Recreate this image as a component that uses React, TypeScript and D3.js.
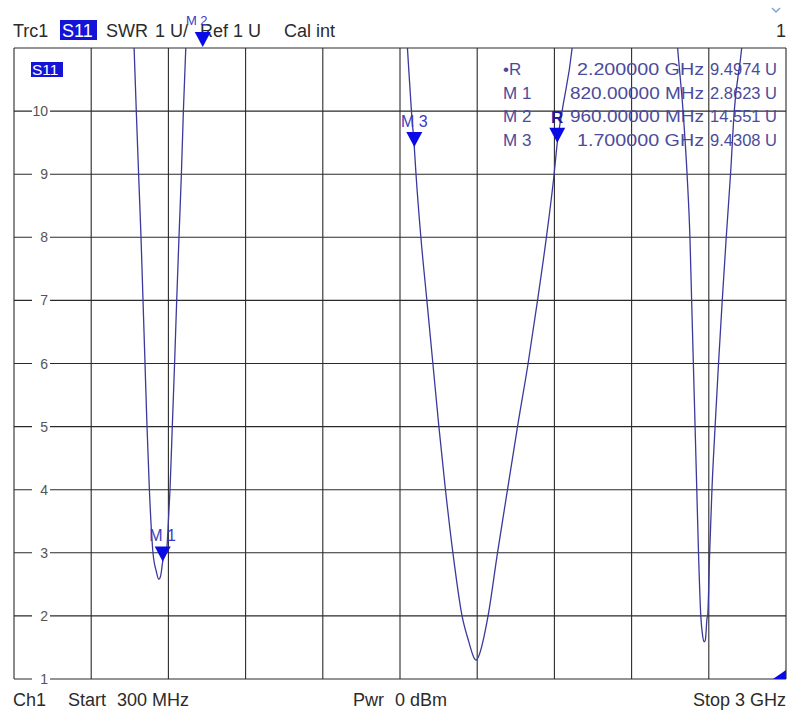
import React from 'react';
import * as d3 from 'd3';

// trace S11, SWR (U) vs frequency (MHz); values above 11 run off the top of the screen
const freqMHz = [
  300, 450, 600, 680, 720, 727.7, 735.8, 744.2, 751.2, 758.2, 765.2, 773.5, 786.1, 798, 806.4, 812, 816, 820,
  827, 834, 840, 845.6, 853.6, 861.6, 869, 877, 885.4, 892.4, 900.8, 930, 960, 1100, 1300, 1500, 1640,
  1676, 1690, 1700, 1706, 1723, 1744, 1765, 1786, 1809, 1835, 1867, 1890, 1911, 1917, 1925, 1958, 1991,
  2026, 2061, 2098, 2131, 2162, 2189, 2200, 2217, 2252, 2300, 2450, 2580,
  2621, 2640, 2654, 2664, 2670, 2676, 2682, 2688, 2694, 2702, 2708, 2714, 2718, 2724, 2726, 2733, 2741,
  2752, 2764, 2777, 2791, 2806, 2819, 2845, 2900, 3000,
];
const swrU = [
  40, 30, 20, 14, 11, 10, 9, 8, 7, 6, 5, 4, 3, 2.7, 2.58, 2.62, 2.72, 2.86,
  2.95, 3.05, 3.5, 4, 5, 6, 7, 8, 9, 10, 11, 13, 14.551, 22, 28, 22, 13.5,
  11, 10, 9.43, 9, 8, 7, 6, 5, 4, 3, 2, 1.6, 1.32, 1.3, 1.36, 2, 3,
  4, 5, 6, 7, 8, 9, 9.497, 10, 11, 14, 22, 14,
  11, 10, 9, 8, 7, 6, 5, 4, 3, 2, 1.7, 1.59, 1.62, 1.97, 2, 3, 4,
  5, 6, 7, 8, 9, 10, 11, 15, 25,
];

const yTicks = [1, 2, 3, 4, 5, 6, 7, 8, 9, 10];
const xGridMHz = [300, 570, 840, 1110, 1380, 1650, 1920, 2190, 2460, 2730, 3000];

// markers
const markerNames = ['R', 'M 1', 'M 2', 'M 3'];
const markerLegend = ['\u2022R', 'M 1', 'M 2', 'M 3'];
const markerFreqMHz = [2200, 820, 960, 1700];
const markerSwr = [9.4974, 2.8623, 14.551, 9.4308];
const markerFreqText = ['2.200000 GHz', '820.00000 MHz', '960.00000 MHz', '1.700000 GHz'];
const markerValueText = ['9.4974 U', '2.8623 U', '14.551 U', '9.4308 U'];

const W = 790;
const H = 716;
const FONT = '"Liberation Sans", Arial, sans-serif';

export default function App() {
  const x = d3.scaleLinear().domain([300, 3000]).range([14, 786]);
  const y = d3.scaleLinear().domain([1, 11]).range([679, 48]);

  const pts: [number, number][] = freqMHz.map((f, i) => [f, swrU[i]]);
  const line = d3
    .line<[number, number]>()
    .x((d) => x(d[0]))
    .y((d) => y(d[1]))
    .curve(d3.curveMonotoneX);

  const top = y(11);
  const bottom = y(1);
  const left = x(300);
  const right = x(3000);

  return (
    <svg width={W} height={H} style={{ position: 'absolute', left: 0, top: 0, background: '#fff' }} fontFamily={FONT}>
      <defs>
        <clipPath id="plot">
          <rect x={left} y={top} width={right - left} height={bottom - top} />
        </clipPath>
      </defs>

      {/* header */}
      <g fontSize={18} fill="#2b2b2b">
        <text x={13} y={37}>Trc1</text>
        <rect x={60} y={20} width={37} height={20} fill="#1414d8" />
        <text x={62} y={37} fill="#fff">S11</text>
        <text x={106} y={37}>SWR</text>
        <text x={155} y={37}>1 U/</text>
        <text x={200} y={37}>Ref 1 U</text>
        <text x={284} y={37}>Cal int</text>
        <text x={786} y={37} textAnchor="end">1</text>
      </g>
      <polyline points="772,8 776,12 780,8" fill="none" stroke="#7aa7d6" strokeWidth={1.5} />

      {/* grid */}
      <g stroke="#2a2a2a" strokeWidth={1.1}>
        {xGridMHz.map((f) => (
          <line key={'v' + f} x1={x(f)} x2={x(f)} y1={top} y2={bottom} />
        ))}
        {[...yTicks, 11].map((t) => (
          <line key={'h' + t} x1={left} x2={right} y1={y(t)} y2={y(t)} />
        ))}
      </g>

      {/* y tick labels */}
      <g fontSize={14} fill="#555">
        {yTicks.map((t) => (
          <g key={'t' + t}>
            <rect x={32} y={y(t) - 6} width={18} height={12} fill="#fff" />
            <text x={48} y={y(t) + 5} textAnchor="end">{t}</text>
          </g>
        ))}
      </g>

      <rect x={31} y={62} width={32} height={15} fill="#1414d8" />
      <text x={32} y={75} fontSize={15.5} fill="#fff">S11</text>

      {/* marker legend */}
      <g fontSize={17} fill="#4b4b9b">
        {markerLegend.map((m, i) => (
          <g key={'l' + m}>
            <text x={503} y={75 + i * 23.5}>{m}</text>
            <text
              x={704}
              y={75 + i * 23.5}
              textAnchor="end"
              textLength={markerFreqText[i].length === 13 ? 134 : 127}
              lengthAdjust="spacingAndGlyphs"
            >
              {markerFreqText[i]}
            </text>
            <text x={777} y={75 + i * 23.5} textAnchor="end" fontSize={16.5}>
              {markerValueText[i]}
            </text>
          </g>
        ))}
      </g>

      {/* trace */}
      <path d={line(pts) || ''} fill="none" stroke="#3a3a9c" strokeWidth={1.3} clipPath="url(#plot)" />

      {/* markers */}
      {markerNames.map((m, i) => {
        const mx = x(markerFreqMHz[i]);
        const off = markerSwr[i] > 11;
        const my = off ? top - 1 : y(markerSwr[i]);
        const isRef = m === 'R';
        return (
          <g key={'m' + m}>
            <path d={`M${mx},${my} L${mx - 8},${my - 15} L${mx + 8},${my - 15} Z`} fill="#0a0ae6" />
            <text
              x={off ? mx - 6 : mx}
              y={off ? my - 22 : my - 20}
              textAnchor="middle"
              fontSize={isRef ? 17 : off ? 13 : 16}
              fontWeight={isRef ? 'bold' : 'normal'}
              fill={isRef ? '#1a1aa8' : '#3c3cc0'}
            >
              {m}
            </text>
          </g>
        );
      })}

      {/* stop corner indicator */}
      <path d={`M${right - 13},${bottom} L${right},${bottom} L${right},${bottom - 9} Z`} fill="#0a0ae6" />

      {/* footer */}
      <g fontSize={18} fill="#2b2b2b">
        <text x={13} y={706}>Ch1</text>
        <text x={68} y={706}>Start</text>
        <text x={117} y={706}>300 MHz</text>
        <text x={353} y={706}>Pwr</text>
        <text x={395} y={706}>0 dBm</text>
        <text x={693} y={706}>Stop</text>
        <text x={786} y={706} textAnchor="end">3 GHz</text>
      </g>
    </svg>
  );
}
